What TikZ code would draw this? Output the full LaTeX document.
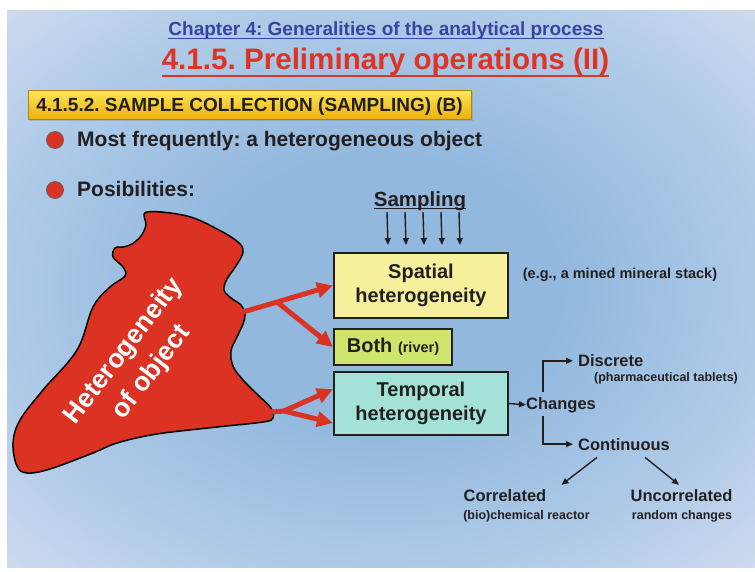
\documentclass[tikz,border=0pt]{standalone}
\usepackage{fontspec}
\setmainfont{Liberation Sans}
\frenchspacing
\usetikzlibrary{positioning}
\usetikzlibrary{arrows.meta, shapes, backgrounds, calc, shadows}
\definecolor{slideblue}{RGB}{146,184,222}
\definecolor{slidemid}{RGB}{176,203,232}
\definecolor{slidelight}{RGB}{214,222,241}
\definecolor{slidepink}{RGB}{244,230,247}
\definecolor{chapblue}{RGB}{58,68,158}
\definecolor{titlered}{RGB}{222,52,36}
\definecolor{blobred}{RGB}{220,50,35}
\definecolor{ink}{RGB}{35,31,32}
\definecolor{spatialyellow}{RGB}{246,240,156}
\definecolor{bothgreen}{RGB}{206,228,108}
\definecolor{temporalcyan}{RGB}{164,226,216}
\definecolor{bannertop}{RGB}{252,230,90}
\definecolor{bannerbot}{RGB}{238,176,10}
\pgfdeclareradialshading{slideshade}{\pgfpoint{0bp}{0bp}}{color(0bp)=(slideblue); color(12bp)=(slideblue); color(26bp)=(slidemid); color(38bp)=(slidelight); color(54bp)=(slidepink); color(75bp)=(slidepink)}

\begin{document}
\begin{tikzpicture}[x=1pt, y=-1pt,
    box/.style={draw=ink, line width=2pt, text=ink, align=center, inner sep=0pt,
        font=\bfseries\fontsize{20}{24}\selectfont},
    bigarrow/.style={draw=blobred, line width=5pt, -{Triangle[length=16pt,width=15pt]}},
    thinarrow/.style={draw=ink, line width=1.4pt, -{Triangle[length=7pt,width=6pt]}},
    branchtext/.style={text=ink, inner sep=0pt, font=\bfseries\fontsize{16.5}{19}\selectfont},
    smalltext/.style={text=ink, inner sep=0pt, font=\bfseries\fontsize{12.5}{15}\selectfont},
    bullettext/.style={text=ink, inner sep=0pt, anchor=base west, font=\bfseries\fontsize{21}{24}\selectfont},
    bullet/.style={circle, draw=ink!70, line width=0.8pt, fill=blobred, minimum size=17pt, inner sep=0pt}]
    \useasboundingbox (0,0) rectangle (755,571);

    % slide background
    \shade[shading=slideshade] (7,10) rectangle (755,567);

    % headings
    \node[anchor=base, inner sep=0pt, text=chapblue, font=\bfseries\fontsize{19}{22}\selectfont] (chapter) at (386,35.5) {Chapter 4: Generalities of the analytical process};
    \draw[chapblue, line width=1.3pt] ([yshift=-3.2pt]chapter.base west) -- ([yshift=-3.2pt]chapter.base east);
    \node[anchor=base, inner sep=0pt, text=titlered, font=\bfseries\fontsize{29.6}{34}\selectfont] (title) at (385.5,69.3) {4.1.5. Preliminary operations (II)};
    \draw[titlered, line width=2.5pt] ([yshift=-6.5pt]title.base west) -- ([yshift=-6.5pt]title.base east);

    % yellow banner
    \node[anchor=north west, top color=bannertop, bottom color=bannerbot, draw=bannerbot!75!black, line width=0.6pt,
        drop shadow={opacity=0.3, shadow xshift=1.5pt, shadow yshift=-2pt},
        inner xsep=8pt, inner ysep=7.75pt, text height=13.5pt, text depth=0pt,
        text=ink, font=\bfseries\fontsize{19}{22}\selectfont] (banner) at (28,90) {\makebox[427pt][l]{4.1.5.2. SAMPLE COLLECTION (SAMPLING) (B)}};

    % bullets
    \node[bullet] (dot1) at (55,140) {};
    \node[bullettext] (most) at (77,146.7) {Most frequently: a heterogeneous object};
    \node[bullet] (dot2) at (55,190) {};
    \node[bullettext] (posib) at (77,196.7) {Posibilities:};

    % heterogeneous object
    \draw[fill=blobred, draw=black, line width=1.5pt] plot[smooth cycle, tension=0.6] coordinates {
        (147,212) (187,216) (217,229) (238,242) (243,252) (236,266) (227,279) (224,290) (231,298)
        (241,305) (245,314) (243,324) (237,337) (231,351) (233,366) (243,380) (259,396) (271,408)
        (273,418) (263,422) (217,427) (157,434) (117,443) (93,453) (50,469) (27,473) (17,466)
        (13,443) (20,420) (43,390) (77,350) (93,307) (110,287) (125,276) (123,267) (113,257)
        (115,248) (123,247) (132,244) (141,236) (146,225)};
    \node[rotate=52.6, text=white, align=center, inner sep=0pt, font=\bfseries\fontsize{26.5}{35}\selectfont] (blobtext) at (138,362) {Heterogeneity\\of object};
    \coordinate (blobR) at (243,312);
    \coordinate (fork) at (277,302);
    \coordinate (blobT) at (271,412);
    \coordinate (fork2) at (284,411);

    % boxes
    \node[box, fill=spatialyellow, minimum width=174pt, minimum height=65pt] (spatial) at (421,285.5) {Spatial\\heterogeneity};
    \node[box, fill=bothgreen, minimum width=118pt, minimum height=36pt] (both) at (393,347) {Both {\fontsize{14.5}{17}\selectfont(river)}};
    \node[box, fill=temporalcyan, minimum width=174pt, minimum height=63pt] (temporal) at (421,403.5) {Temporal\\heterogeneity};

    % sampling
    \node[anchor=base, inner sep=0pt, text=ink, font=\bfseries\fontsize{20.5}{24}\selectfont] (sampling) at (420,206) {Sampling};
    \draw[ink, line width=1.3pt] ([yshift=-2.5pt]sampling.base west) -- ([yshift=-2.5pt]sampling.base east);
    \foreach \dx in {-33,-15,3,21,39}
        \draw[thinarrow] ([xshift=\dx pt, yshift=-6pt]sampling.base) -- ([xshift=\dx pt, yshift=7pt]spatial.north);
    \node[anchor=base, inner sep=0pt, text=ink, font=\bfseries\fontsize{14.5}{17}\selectfont] (mined) at (620,278) {(e.g., a mined mineral stack)};

    % red arrows
    \draw[bigarrow, -] (blobR) -- (fork);
    \draw[bigarrow] (fork) -- (spatial.west);
    \draw[bigarrow] (fork) -- (both.west);
    \draw[bigarrow, -] (blobT) -- (fork2);
    \draw[bigarrow] (fork2) -- ($(temporal.north west)!0.28!(temporal.south west)$);
    \draw[bigarrow] (fork2) -- ($(temporal.north west)!0.80!(temporal.south west)$);

    % changes
    \node[branchtext, anchor=base west] (changes) at (526,409) {Changes};
    \draw[thinarrow] (temporal.east) -- (changes.west);
    \node[branchtext, anchor=base west] (discrete) at (578,366.7) {Discrete};
    \node[smalltext, anchor=base] (tablets) at (666,381) {(pharmaceutical tablets)};
    \node[branchtext, anchor=base west] (continuous) at (578,450) {Continuous};
    \draw[thinarrow, shorten >=5pt] ([xshift=17pt, yshift=5pt]changes.north west) |- (discrete.west);
    \draw[thinarrow, shorten >=5pt] ([xshift=17pt, yshift=-3pt]changes.south west) |- (continuous.west);

    % continuous changes
    \node[branchtext, anchor=base] (correlated) at (505,501) {Correlated};
    \node[smalltext, anchor=base] (reactor) at (526.5,519) {(bio)chemical reactor};
    \node[branchtext, anchor=base] (uncorrelated) at (681.5,501) {Uncorrelated};
    \node[smalltext, anchor=base] (random) at (682,519) {random changes};
    \draw[thinarrow] ([xshift=-27pt, yshift=-7pt]continuous.south) -- ([xshift=15pt, yshift=4pt]correlated.north east);
    \draw[thinarrow] ([xshift=21pt, yshift=-7pt]continuous.south) -- ([xshift=-2.5pt, yshift=4pt]uncorrelated.north);
\end{tikzpicture}
\end{document}
